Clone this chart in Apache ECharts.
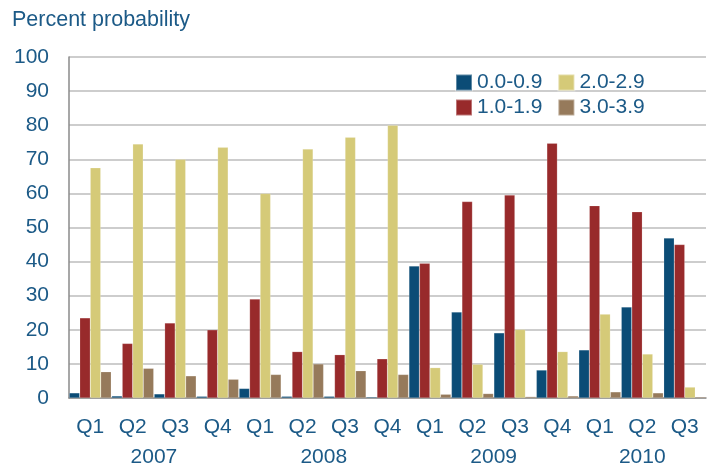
<!DOCTYPE html>
<html>
<head>
<meta charset="utf-8">
<script src="https://cdn.jsdelivr.net/npm/echarts@6/dist/echarts.min.js"></script>
<style>
  html, body { margin: 0; padding: 0; background: #fff; }
  #main { width: 709px; height: 468px; }
</style>
</head>
<body>
<div id="main"></div>
<script>
// quarters and the year each one belongs to
var quarters = ['Q1', 'Q2', 'Q3', 'Q4', 'Q1', 'Q2', 'Q3', 'Q4', 'Q1', 'Q2', 'Q3', 'Q4', 'Q1', 'Q2', 'Q3'];
var years = ['2007', '2007', '2007', '2007', '2008', '2008', '2008', '2008',
             '2009', '2009', '2009', '2009', '2010', '2010', '2010'];

// percent probability per range
var bin00 = [1.5, 0.6, 1.2, 0.5, 2.8, 0.5, 0.5, 0.3, 38.7, 25.2, 19.1, 8.2, 14.1, 26.7, 46.9];
var bin10 = [23.5, 16.0, 22.0, 20.0, 29.0, 13.6, 12.7, 11.5, 39.5, 57.6, 59.5, 74.7, 56.4, 54.6, 45.0];
var bin20 = [67.5, 74.5, 70.0, 73.5, 60.0, 73.0, 76.5, 80.0, 8.9, 9.9, 20.1, 13.6, 24.6, 12.9, 3.2];
var bin30 = [7.7, 8.7, 6.5, 5.5, 6.9, 10.0, 8.0, 6.9, 1.1, 1.3, 0.4, 0.6, 1.8, 1.5, 0.3];

var yTicks = [0, 10, 20, 30, 40, 50, 60, 70, 80, 90, 100];

var textColor = '#1c5a87';
var font = '"Liberation Sans", Arial, sans-serif';
var fs = 21;

// centre of each year's run of quarters, on a 0..n value scale
var yearCenters = [];
years.forEach(function (y, i) {
  var last = yearCenters[yearCenters.length - 1];
  if (last && last.name === y) {
    last.end = i + 1;
  } else {
    yearCenters.push({ name: y, start: i, end: i + 1 });
  }
});

function bar(name, data, color) {
  return {
    name: name,
    type: 'bar',
    data: data,
    barGap: '0%',
    barCategoryGap: '1%',
    itemStyle: { color: color, borderColor: 'rgba(255,255,255,0.35)', borderWidth: 0.5 }
  };
}

function legendRow(names, top) {
  return {
    data: names,
    left: 455,
    top: top,
    padding: 0,
    itemWidth: 16,
    itemHeight: 16,
    itemGap: 15,
    icon: 'rect',
    textStyle: { color: textColor, fontSize: fs, fontFamily: font }
  };
}

var myChart = echarts.init(document.getElementById('main'));
myChart.setOption({
  animation: false,
  backgroundColor: '#fff',
  textStyle: { fontFamily: font },
  title: {
    text: 'Percent probability',
    left: 7,
    top: 4,
    textStyle: { color: textColor, fontSize: 21.5, fontWeight: 'normal', fontFamily: font }
  },
  legend: [
    legendRow(['0.0-0.9', '2.0-2.9'], 72),
    legendRow(['1.0-1.9', '3.0-3.9'], 97)
  ],
  grid: { left: 69, right: -4, top: 57, bottom: 70 },
  xAxis: [
    {
      type: 'category',
      data: quarters,
      axisLine: { lineStyle: { color: '#8a8a8a', width: 1.5 } },
      axisTick: { show: false },
      axisLabel: { color: textColor, fontSize: fs, margin: 19, fontFamily: font }
    },
    {
      type: 'value',
      min: 0,
      max: quarters.length,
      interval: 0.5,
      position: 'bottom',
      axisLine: { show: false },
      axisTick: { show: false },
      splitLine: { show: false },
      axisLabel: {
        color: textColor,
        fontSize: fs,
        margin: 49,
        fontFamily: font,
        formatter: function (v) {
          for (var i = 0; i < yearCenters.length; i++) {
            var c = (yearCenters[i].start + yearCenters[i].end) / 2;
            if (Math.abs(c - v) < 0.01) return yearCenters[i].name;
          }
          return '';
        }
      }
    }
  ],
  yAxis: {
    type: 'value',
    min: yTicks[0],
    max: yTicks[yTicks.length - 1],
    interval: yTicks[1] - yTicks[0],
    axisLine: { show: true, lineStyle: { color: '#8a8a8a', width: 1.5 } },
    axisTick: { show: false },
    splitLine: { lineStyle: { color: '#bdbdbd', width: 1.5 } },
    axisLabel: { color: textColor, fontSize: fs, margin: 20, fontFamily: font }
  },
  series: [
    bar('0.0-0.9', bin00, '#0b4c76'),
    bar('1.0-1.9', bin10, '#982a2b'),
    bar('2.0-2.9', bin20, '#d5ca78'),
    bar('3.0-3.9', bin30, '#967a5b')
  ]
});
</script>
</body>
</html>
